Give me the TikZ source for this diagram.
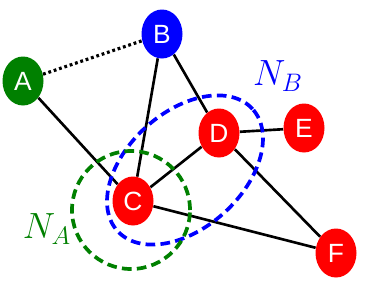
\documentclass[tikz,border=0pt]{standalone}
\usepackage{fontspec}
\newfontfamily\vtxfont{Liberation Sans}
\usepackage{tikz}
\usetikzlibrary{shapes.geometric,backgrounds}

\begin{document}
\begin{tikzpicture}[
        vtx/.style = {ellipse, minimum width = 0.82cm, minimum height = 0.98cm, inner sep = 0pt, text = white, font = \vtxfont\fontsize{15}{17}\selectfont},
        edge/.style = {line width = 1.5pt},
        nbhd/.style = {line width = 2.1pt, dash pattern = on 5.5pt off 3pt}
    ]
        \useasboundingbox (0,0) rectangle (7.5,6.02);
        \node[vtx, fill = green!50!black](A)at(0.46,4.40){A};
        \node[vtx, fill = blue](B)at(3.24,5.34){B};
        \node[vtx, fill = red](C)at(2.66,2.00){C};
        \node[vtx, fill = red](D)at(4.38,3.36){D};
        \node[vtx, fill = red](E)at(6.08,3.46){E};
        \node[vtx, fill = red](F)at(6.72,0.96){F};
        % 边
        \begin{scope}[on background layer]
        \draw[line width = 1.8pt, dash pattern = on 1.6pt off 1.6pt](A)to(B);
        \draw[edge](A)to(C);
        \draw[edge](B)to(C);
        \draw[edge](B)to(D);
        \draw[edge](C)to(D);
        \draw[edge](D)to(E);
        \draw[edge](D)to(F);
        \draw[edge](C)to(F);
        \end{scope}
        % 邻域
        \draw[nbhd, blue, rotate around = {42:(3.70,2.62)}](3.70,2.62) ellipse (1.82 and 1.16);
        \draw[nbhd, green!50!black](2.62,1.82) circle (1.18);
        \node[text = green!50!black, font = \fontsize{20}{22}\selectfont](NA)at(0.94,1.44){$N_A$};
        \node[text = blue, font = \fontsize{20}{22}\selectfont](NB)at(5.56,4.50){$N_B$};
    \end{tikzpicture}
\end{document}
